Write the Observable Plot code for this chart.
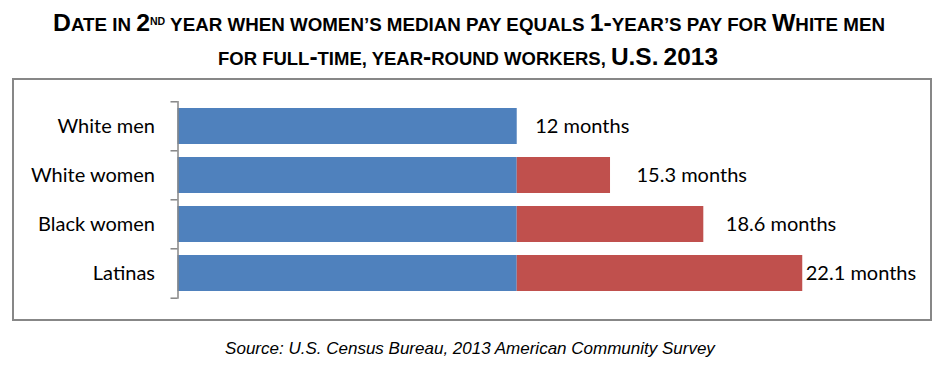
<!DOCTYPE html>
<html>
<head>
<meta charset="utf-8">
<script src="https://cdn.jsdelivr.net/npm/d3@7"></script>
<script src="https://cdn.jsdelivr.net/npm/@observablehq/plot@0.6"></script>
<style>
  html, body { margin: 0; padding: 0; background: #fff; }
  #wrap { position: relative; width: 943px; height: 365px; overflow: hidden; background: #fff; }
  #title, #caption { position: absolute; left: 0; }
  #title { top: 0; }
  #caption { top: 325px; }
  #box { position: absolute; left: 12px; top: 78px; width: 920px; height: 243px; box-sizing: border-box; border: 2px solid #878787; }
  #chart { position: absolute; left: 0; top: 79px; }
</style>
</head>
<body>
<div id="wrap">
  <svg id="title" width="943" height="76"></svg>
  <div id="box"></div>
  <div id="chart"></div>
  <svg id="caption" width="943" height="40"></svg>
</div>
<script>
// ---- data ----
const categories = ["White men", "White women", "Black women", "Latinas"];
const months = [12, 15.3, 18.6, 22.1];
const valueLabels = ["12 months", "15.3 months", "18.6 months", "22.1 months"];
const oneYear = 12;
const titleLine1a = "Date in 2";
const titleSup = "nd";
const titleLine1b = " year when women’s median pay equals 1-year’s pay for White men";
const titleLine2 = "for full-time, year-round workers, U.S. 2013";
const captionText = "Source: U.S. Census Bureau, 2013 American Community Survey";

const data = categories.map((c, i) => ({group: c, months: months[i], label: valueLabels[i]}));

// ---- title (manual small caps) ----
const tsvg = d3.select("#title");
const titleFont = "'Liberation Sans', Arial, sans-serif";
const BIG = 23.5, SMALL = 17.8;
function addSmallCaps(textSel, str) {
  // split into runs of "big" (uppercase/digits) and "small" (lowercase etc.)
  const isBig = ch => /[A-Z0-9\-\.]/.test(ch) && !/[a-z]/.test(ch);
  let runs = [];
  for (const ch of str) {
    const big = isBig(ch);
    if (runs.length && runs[runs.length - 1].big === big) runs[runs.length - 1].s += ch;
    else runs.push({big, s: ch});
  }
  runs.forEach(r => textSel.append("tspan")
    .style("font-size", (r.big ? BIG : SMALL) + "px")
    .text(r.s.toUpperCase()));
}
const t1 = tsvg.append("text")
  .attr("x", 469).attr("y", 31).attr("text-anchor", "middle")
  .attr("textLength", 832).attr("lengthAdjust", "spacingAndGlyphs")
  .style("font-family", titleFont).style("font-weight", "bold").attr("fill", "#000");
addSmallCaps(t1, titleLine1a);
t1.append("tspan").attr("dy", -6.5).style("font-size", "10px").text(titleSup.toUpperCase());
const rest = t1.append("tspan").attr("dy", 6.5);
addSmallCaps(t1, titleLine1b);
rest.remove();
// re-add baseline shift on first tspan after sup
t1.selectAll("tspan").filter((d, i, n) => n[i].previousSibling && n[i].previousSibling.textContent === titleSup.toUpperCase()).attr("dy", 6.5);

const t2 = tsvg.append("text")
  .attr("x", 468).attr("y", 65).attr("text-anchor", "middle")
  .attr("textLength", 500).attr("lengthAdjust", "spacingAndGlyphs")
  .style("font-family", titleFont).style("font-weight", "bold").attr("fill", "#000");
addSmallCaps(t2, titleLine2);

// ---- caption ----
d3.select("#caption").append("text")
  .attr("x", 470).attr("y", 29).attr("text-anchor", "middle")
  .style("font-family", "'Liberation Sans', Arial, sans-serif").style("font-style", "italic")
  .style("font-size", "17px").attr("fill", "#000")
  .text(captionText);

// ---- chart ----
const H = 241, mT = 22, mB = 21.3;
const step = (H - mT - mB) / categories.length;
const labelDx = [18, 26, 22, 3];
const axisColor = "#868686";

const chart = Plot.plot({
  width: 943,
  height: H,
  marginLeft: 177.5,
  marginRight: 30.5,
  marginTop: mT,
  marginBottom: mB,
  x: {domain: [0, 26], axis: null},
  y: {domain: categories, paddingInner: 0.265, paddingOuter: 0.1325, label: null, axis: null},
  style: {fontFamily: "Lato, 'Open Sans', sans-serif", fontSize: "20px", color: "#000", background: "transparent", overflow: "visible"},
  marks: [
    Plot.barX(data, {y: "group", x1: 0, x2: d => Math.min(d.months, oneYear), fill: "#4F81BD"}),
    Plot.barX(data.filter(d => d.months > oneYear), {y: "group", x1: oneYear, x2: "months", fill: "#C0504D"}),
    Plot.ruleX([0], {stroke: axisColor, strokeWidth: 1.5}),
    Plot.ruleY(categories, {y: d => d, x1: 0, x2: 0, insetLeft: -7, dy: -step / 2, stroke: axisColor, strokeWidth: 1.5}),
    Plot.ruleY(categories.slice(-1), {y: d => d, x1: 0, x2: 0, insetLeft: -7, dy: step / 2, stroke: axisColor, strokeWidth: 1.5}),
    ...data.map((d, i) => Plot.text([d], {y: "group", x: "months", text: "label", textAnchor: "start", dx: labelDx[i], fill: "#000", fontSize: 20})),
    Plot.axisY({tickSize: 0, tickPadding: 23, fontSize: 20, fill: "#000"})
  ]
});
document.getElementById("chart").appendChild(chart);
</script>
</body>
</html>
